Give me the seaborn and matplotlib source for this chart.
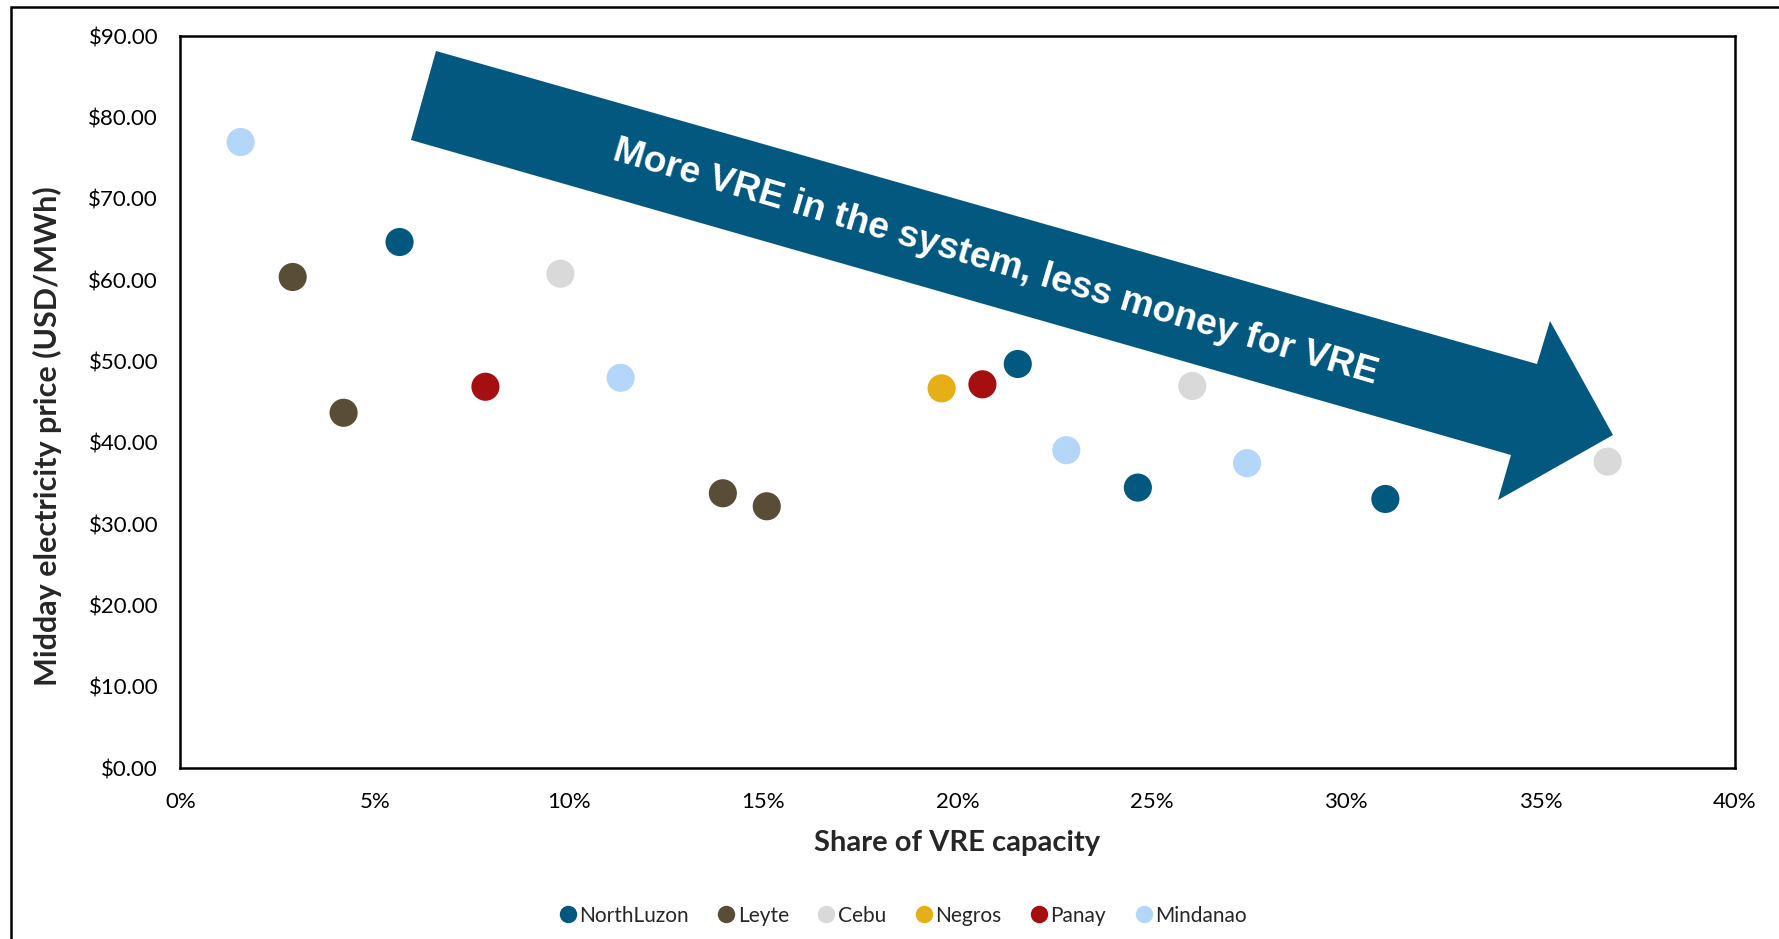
import matplotlib
matplotlib.use("Agg")
import matplotlib.pyplot as plt
import seaborn as sns
import pandas as pd
from matplotlib.patches import Polygon, Rectangle
from matplotlib.ticker import FuncFormatter

# ---- data ----
regions = ["Mindanao", "Leyte", "Leyte", "NorthLuzon", "Panay", "Cebu", "Mindanao",
           "Leyte", "Leyte", "Negros", "Panay", "NorthLuzon", "Mindanao", "NorthLuzon",
           "Cebu", "Mindanao", "NorthLuzon", "Cebu"]
vre_share = [1.55, 2.89, 4.20, 5.64, 7.85, 9.78, 11.33, 13.96, 15.09, 19.59, 20.64,
             21.55, 22.80, 24.64, 26.04, 27.45, 31.01, 36.73]
price = [77.0, 60.4, 43.7, 64.7, 46.9, 60.8, 48.0, 33.8, 32.2, 46.7, 47.2,
         49.7, 39.1, 34.5, 47.0, 37.5, 33.1, 37.7]
legend_order = ["NorthLuzon", "Leyte", "Cebu", "Negros", "Panay", "Mindanao"]
palette = {"NorthLuzon": "#03587F", "Leyte": "#5A4D37", "Cebu": "#D9D9D9",
           "Negros": "#E6AF17", "Panay": "#A50F0F", "Mindanao": "#B4D6F8"}
x_ticks = [0, 5, 10, 15, 20, 25, 30, 35, 40]
y_ticks = [0, 10, 20, 30, 40, 50, 60, 70, 80, 90]
arrow_text = "More VRE in the system, less money for VRE"

df = pd.DataFrame({"region": regions, "share": vre_share, "price": price})

sns.set_theme(style="white")
plt.rcParams["font.family"] = ["Lato", "DejaVu Sans"]

W, H = 1779, 939
fig = plt.figure(figsize=(W / 100, H / 100), dpi=100)
ax = fig.add_axes([180.4 / W, 1 - 768.1 / H, (1734.7 - 180.4) / W, (768.1 - 36.3) / H])

sns.scatterplot(data=df, x="share", y="price", hue="region", hue_order=legend_order,
                palette=palette, s=410, edgecolor="none", linewidth=0, ax=ax, zorder=3)

ax.set_xlim(0, 40)
ax.set_ylim(0, 90)
ax.set_xticks(x_ticks)
ax.set_yticks(y_ticks)
ax.xaxis.set_major_formatter(FuncFormatter(lambda v, p: f"{v:.0f}%"))
ax.yaxis.set_major_formatter(FuncFormatter(lambda v, p: f"${v:.2f}"))
ax.tick_params(axis="both", length=0, labelsize=16, colors="#000000")
ax.tick_params(axis="x", pad=17)
ax.tick_params(axis="y", pad=16)
for sp in ax.spines.values():
    sp.set_color("black")
    sp.set_linewidth(1.8)
ax.set_xlabel("Share of VRE capacity", fontsize=21, fontweight="bold", labelpad=13.5)
ax.set_ylabel("Midday electricity price (USD/MWh)", fontsize=22, fontweight="bold", labelpad=19)
ax.yaxis.label.set_y(0.454)

# legend
handles, labels = ax.get_legend_handles_labels()
ax.legend(handles, labels, loc="center", bbox_to_anchor=(902 / W, 1 - 915.6 / H),
          bbox_transform=fig.transFigure, ncol=6, frameon=False, fontsize=15,
          markerscale=0.62, handletextpad=0.05, columnspacing=1.3, handlelength=1.0)

# arrow annotation (figure pixel coordinates)
pts = [(436, 51), (1537, 364), (1550, 321), (1613, 435), (1498, 500), (1511, 455), (411, 140)]
poly = Polygon([(x / W, 1 - y / H) for x, y in pts], closed=True, transform=fig.transFigure,
               facecolor="#03587F", edgecolor="none", zorder=5)
fig.patches.append(poly)
fig.text(995 / W, 1 - 262 / H, arrow_text, rotation=-16.4, rotation_mode="anchor",
         ha="center", va="center", color="white", fontsize=26.8, fontweight="bold",
         family=["Liberation Sans", "DejaVu Sans"], zorder=6)

# outer border
border = Rectangle((11 / W, -0.05), 1.1, 1 - 7 / H + 0.05, transform=fig.transFigure,
                   fill=False, edgecolor="black", linewidth=1.8)
fig.patches.append(border)

fig.savefig("out.png", dpi=100)
